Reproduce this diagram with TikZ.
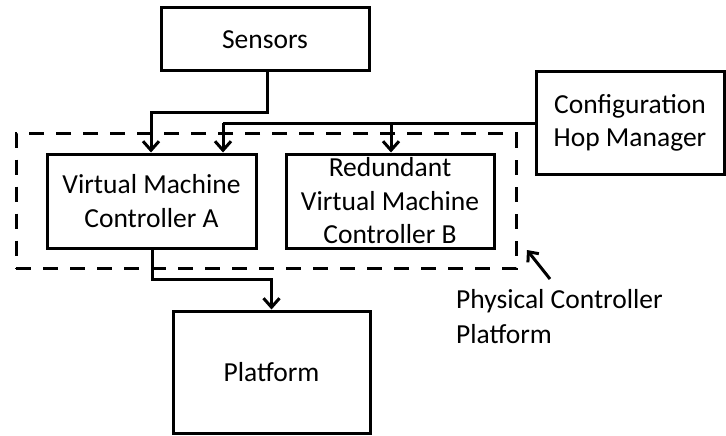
\documentclass[tikz,border=0pt]{standalone}
\usepackage{fontspec}
\setmainfont{Carlito}
\usetikzlibrary{arrows.meta}
\begin{document}
\begin{tikzpicture}[x=1pt,y=-1pt,
  box/.style={draw,line width=3pt,align=center,inner sep=0pt,font=\fontsize{27.5}{33.5}\selectfont},
  conn/.style={line width=3pt,-{Straight Barb[length=9pt,width=16pt,line width=3pt]}},
  plain/.style={line width=3pt},
  dashbox/.style={draw,line width=3pt,dash pattern=on 15pt off 12pt}]
\useasboundingbox (0,0) rectangle (726,436);
\node[box,minimum width=208pt,minimum height=63pt] (sens) at (265,39.5) {Sensors};
\node[box,minimum width=188pt,minimum height=103pt] (conf) at (630,123) {Configuration\\Hop Manager};
\node[dashbox,minimum width=500pt,minimum height=135pt,inner sep=0pt] (phys) at (266,201) {};
\node[box,minimum width=209pt,minimum height=94pt] (vma) at (151.5,201) {Virtual Machine\\Controller A};
\node[box,minimum width=208pt,minimum height=94pt] (vmb) at (390,201) {Redundant\\Virtual Machine\\Controller B};
\node[box,minimum width=197pt,minimum height=122pt] (plat) at (271.5,372) {Platform};
\node[align=left,anchor=north west,inner sep=0pt,font=\fontsize{27.5}{35}\selectfont] (lbl) at (456,289) {Physical Controller\\Platform};
\coordinate (lt) at (550,279);
\coordinate (lh) at (527,250);
\coordinate (s1) at (267,112);
\coordinate (s2) at (151,112);
\coordinate (c1) at (223,123);
\coordinate (c2) at (391,123);
\coordinate (a1) at (152,279);
\coordinate (a2) at (271.5,279);
\draw[conn] (sens.south -| s1) -- (s1) -- (s2) -- (vma.north -| s2);
\draw[plain] (conf.west) -- (c1);
\draw[conn] (c1) -- (vma.north -| c1);
\draw[conn] (c2) -- (vmb.north -| c2);
\draw[conn] (vma.south -| a1) -- (a1) -- (a2) -- (plat.north);
\draw[line width=3pt,-{Straight Barb[length=8pt,width=14pt,line width=3pt]}] (lt) -- (lh);
\end{tikzpicture}
\end{document}
